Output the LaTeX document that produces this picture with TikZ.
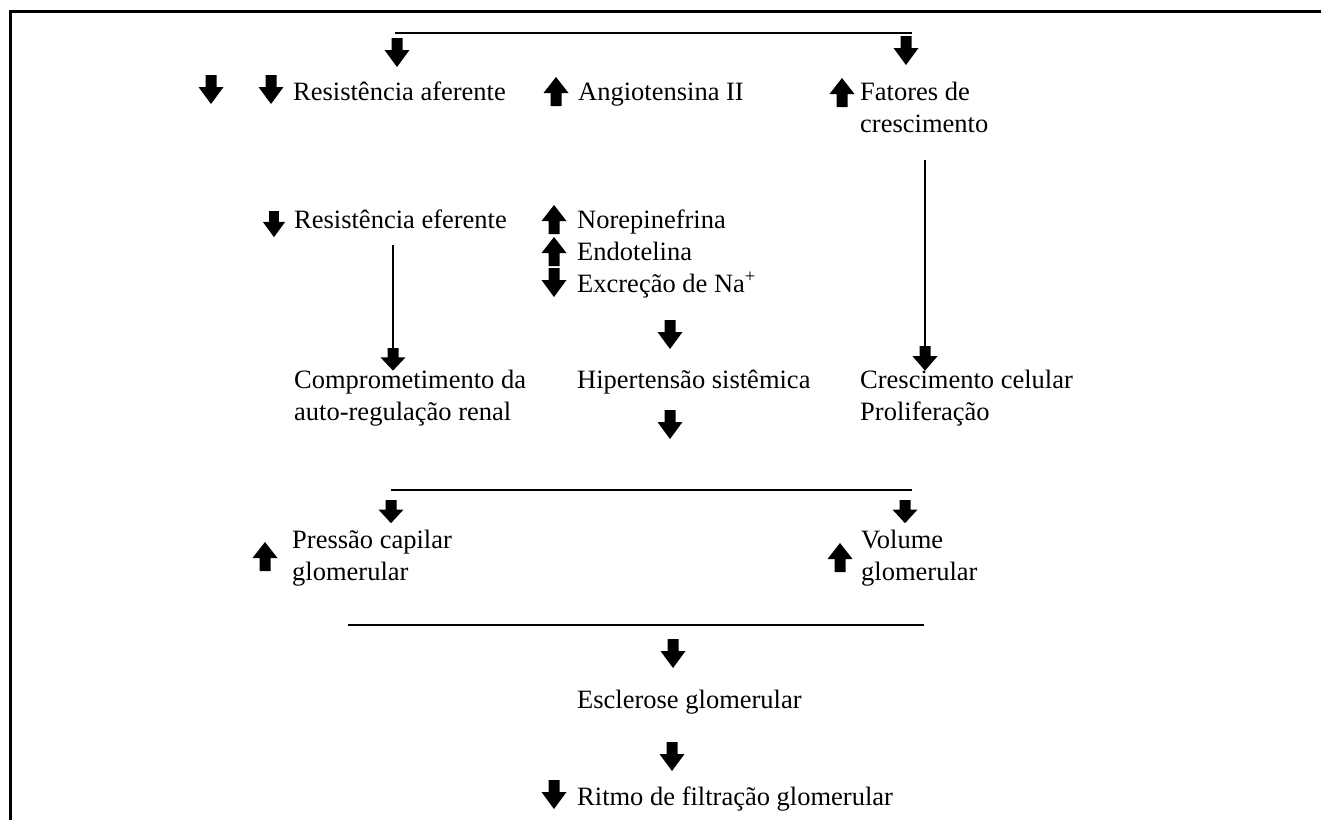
\documentclass[tikz,border=0pt]{standalone}
\usepackage{fontspec}
\setmainfont{Liberation Serif}
\begin{document}
\begin{tikzpicture}[x=1pt,y=-1pt,
  txt/.style={anchor=base west, inner sep=0pt, font=\fontsize{26.5}{32.5}\selectfont},
  mtxt/.style={anchor=north west, inner sep=0pt, align=left, font=\fontsize{26.5}{32.5}\selectfont},
  conn/.style={line width=2.4pt},
  frame/.style={line width=3pt},
  dn/.pic={\fill (-5.5,0) -- (5.5,0) -- (5.5,12) -- (12.5,12) -- (0,29) -- (-12.5,12) -- (-5.5,12) -- cycle;
           \coordinate (-top) at (0,0); \coordinate (-tip) at (0,29);},
  up/.pic={\fill (0,0) -- (12.5,16) -- (5.5,16) -- (5.5,29) -- (-5.5,29) -- (-5.5,16) -- (-12.5,16) -- cycle;
           \coordinate (-top) at (0,0);}
]
\useasboundingbox (0,0) rectangle (1321,820);
\fill[white] (0,0) rectangle (1321,820);
% frame
\draw[frame] (10,820) -- (10,11) -- (1321,11);

% top split
\coordinate (t1) at (395,33);
\coordinate (t2) at (912,33);
\draw[conn] (t1) -- (t2);
\pic (ta1) at (397,38) {dn};
\pic (ta2) at (906,36) {dn};

% row 1
\pic (lone) at (211,75) {dn};
\pic (ra) at (271,75) {dn};
\node[txt] (resaf) at (293,100) {Resistência aferente};
\pic (ua) at (556,77) {up};
\node[txt] (angio) at (578,100) {Angiotensina II};
\pic (uf) at (842,78) {up};
\node[mtxt] (fat) at (860,77.25) {\strut Fatores de\\crescimento};

% right vertical connector
\coordinate (v3s) at (925,160);
\pic[yscale=0.85] (v3a) at (925,346) {dn};
\draw[conn] (v3s) -- (v3a-top);

% row 2
\pic[scale=0.9] (re) at (274,211) {dn};
\node[txt] (resef) at (294,228) {Resistência eferente};
\coordinate (v1s) at (393,245);
\pic[yscale=0.78] (v1a) at (393,348) {dn};
\draw[conn] (v1s) -- (v1a-top);

\pic (un) at (554,205) {up};
\node[txt] (nor) at (577,228) {Norepinefrina};
\pic (ue) at (554,237) {up};
\node[txt] (endo) at (577,260) {Endotelina};
\pic (de) at (554,268) {dn};
\node[txt] (excr) at (577,292) {Excreção de Na\textsuperscript{+}};

\pic (dh1) at (670,320) {dn};
\node[mtxt] (comp) at (294,365.25) {\strut Comprometimento da\\auto-regulação renal};
\node[txt] (hip) at (577,388) {Hipertensão sistêmica};
\node[mtxt] (cresc) at (860,365.25) {\strut Crescimento celular\\Proliferação};
\pic (dh2) at (670,410) {dn};

% lower split
\coordinate (m1) at (391,490);
\coordinate (m2) at (912,490);
\draw[conn] (m1) -- (m2);
\pic[yscale=0.8] (ma1) at (391,500) {dn};
\pic[yscale=0.8] (ma2) at (905,500) {dn};

\pic (up1) at (265,542) {up};
\node[mtxt] (press) at (292,525.25) {\strut Pressão capilar\\glomerular};
\pic (up2) at (840,543) {up};
\node[mtxt] (vol) at (861,525.25) {\strut Volume\\glomerular};

% join line
\coordinate (j1) at (348,625);
\coordinate (j2) at (924,625);
\draw[conn] (j1) -- (j2);
\pic (ja) at (673,639) {dn};
\node[txt] (escl) at (577,708) {Esclerose glomerular};
\pic (ea) at (672,742) {dn};
\pic (ra2) at (554,780) {dn};
\node[txt] (ritmo) at (577,805) {Ritmo de filtração glomerular};
\end{tikzpicture}
\end{document}
